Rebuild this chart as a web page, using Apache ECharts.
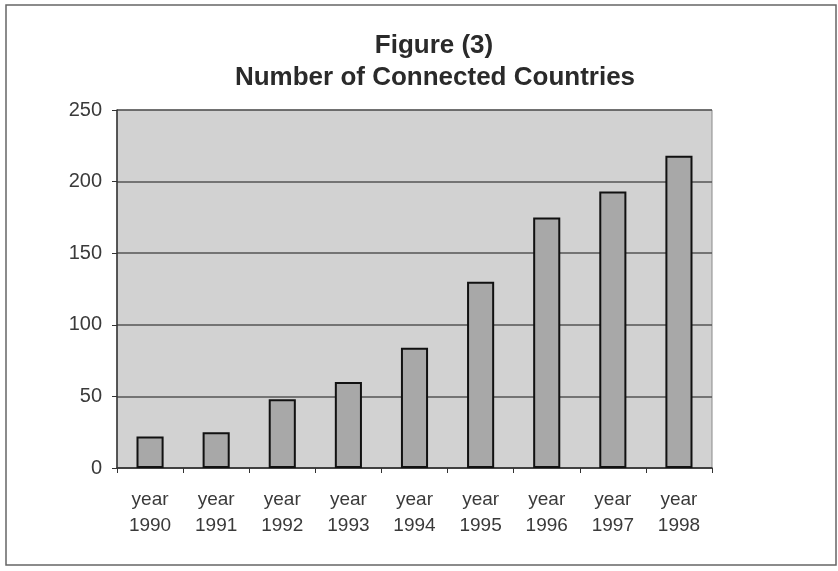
<!DOCTYPE html>
<html>
<head>
<meta charset="utf-8">
<script src="https://cdn.jsdelivr.net/npm/echarts@6/dist/echarts.min.js"></script>
<style>html,body{margin:0;padding:0;background:#fff}#c{width:838px;height:571px}</style>
</head>
<body>
<div id="c"></div>
<script>
const titleLine1 = "Figure (3)";
const titleLine2 = "Number of Connected Countries";
const categories = ["year\n1990","year\n1991","year\n1992","year\n1993","year\n1994","year\n1995","year\n1996","year\n1997","year\n1998"];
const countries = [22, 25, 48, 60, 84, 130, 175, 193, 218];
const yTicks = [0, 50, 100, 150, 200, 250];

const chart = echarts.init(document.getElementById('c'), null, {renderer: 'canvas'});
chart.setOption({
  backgroundColor: '#ffffff',
  animation: false,
  textStyle: {fontFamily: 'Liberation Sans, Arial, sans-serif'},
  title: [
    {text: titleLine1, left: 429, top: 28, textAlign: 'center',
     textStyle: {fontSize: 26, fontWeight: 'bold', color: '#2a2a2a', fontFamily: 'Liberation Sans, Arial, sans-serif'}},
    {text: titleLine2, left: 430, top: 60, textAlign: 'center',
     textStyle: {fontSize: 26, fontWeight: 'bold', color: '#2a2a2a', fontFamily: 'Liberation Sans, Arial, sans-serif'}}
  ],
  graphic: [
    {type: 'rect', shape: {x: 6, y: 5, width: 830, height: 560}, style: {fill: 'none', stroke: '#666', lineWidth: 1.5}, z: 10}
  ],
  grid: {left: 117, right: 126, top: 110, bottom: 103, show: true, backgroundColor: '#d2d2d2', borderColor: '#8a8a8a', borderWidth: 1},
  xAxis: {
    type: 'category', data: categories,
    axisLine: {show: true, lineStyle: {color: '#333', width: 1.5}},
    axisTick: {show: true, inside: false, length: 5, lineStyle: {color: '#333', width: 1}},
    axisLabel: {fontSize: 19, color: '#3a3a3a', lineHeight: 26, margin: 19, fontFamily: 'Liberation Sans, Arial, sans-serif'},
    splitLine: {show: false}
  },
  yAxis: {
    type: 'value', min: yTicks[0], max: yTicks[yTicks.length-1], interval: 50,
    axisLine: {show: true, lineStyle: {color: '#333', width: 1.5}},
    axisTick: {show: true, length: 5, lineStyle: {color: '#333', width: 1}},
    axisLabel: {fontSize: 20, color: '#3a3a3a', margin: 15, fontFamily: 'Liberation Sans, Arial, sans-serif'},
    splitLine: {show: true, lineStyle: {color: '#555', width: 1.5}}
  },
  series: [{
    type: 'bar', data: countries, barWidth: '41%',
    itemStyle: {color: '#a8a8a8', borderColor: '#111', borderWidth: 2}
  }]
});
</script>
</body>
</html>
